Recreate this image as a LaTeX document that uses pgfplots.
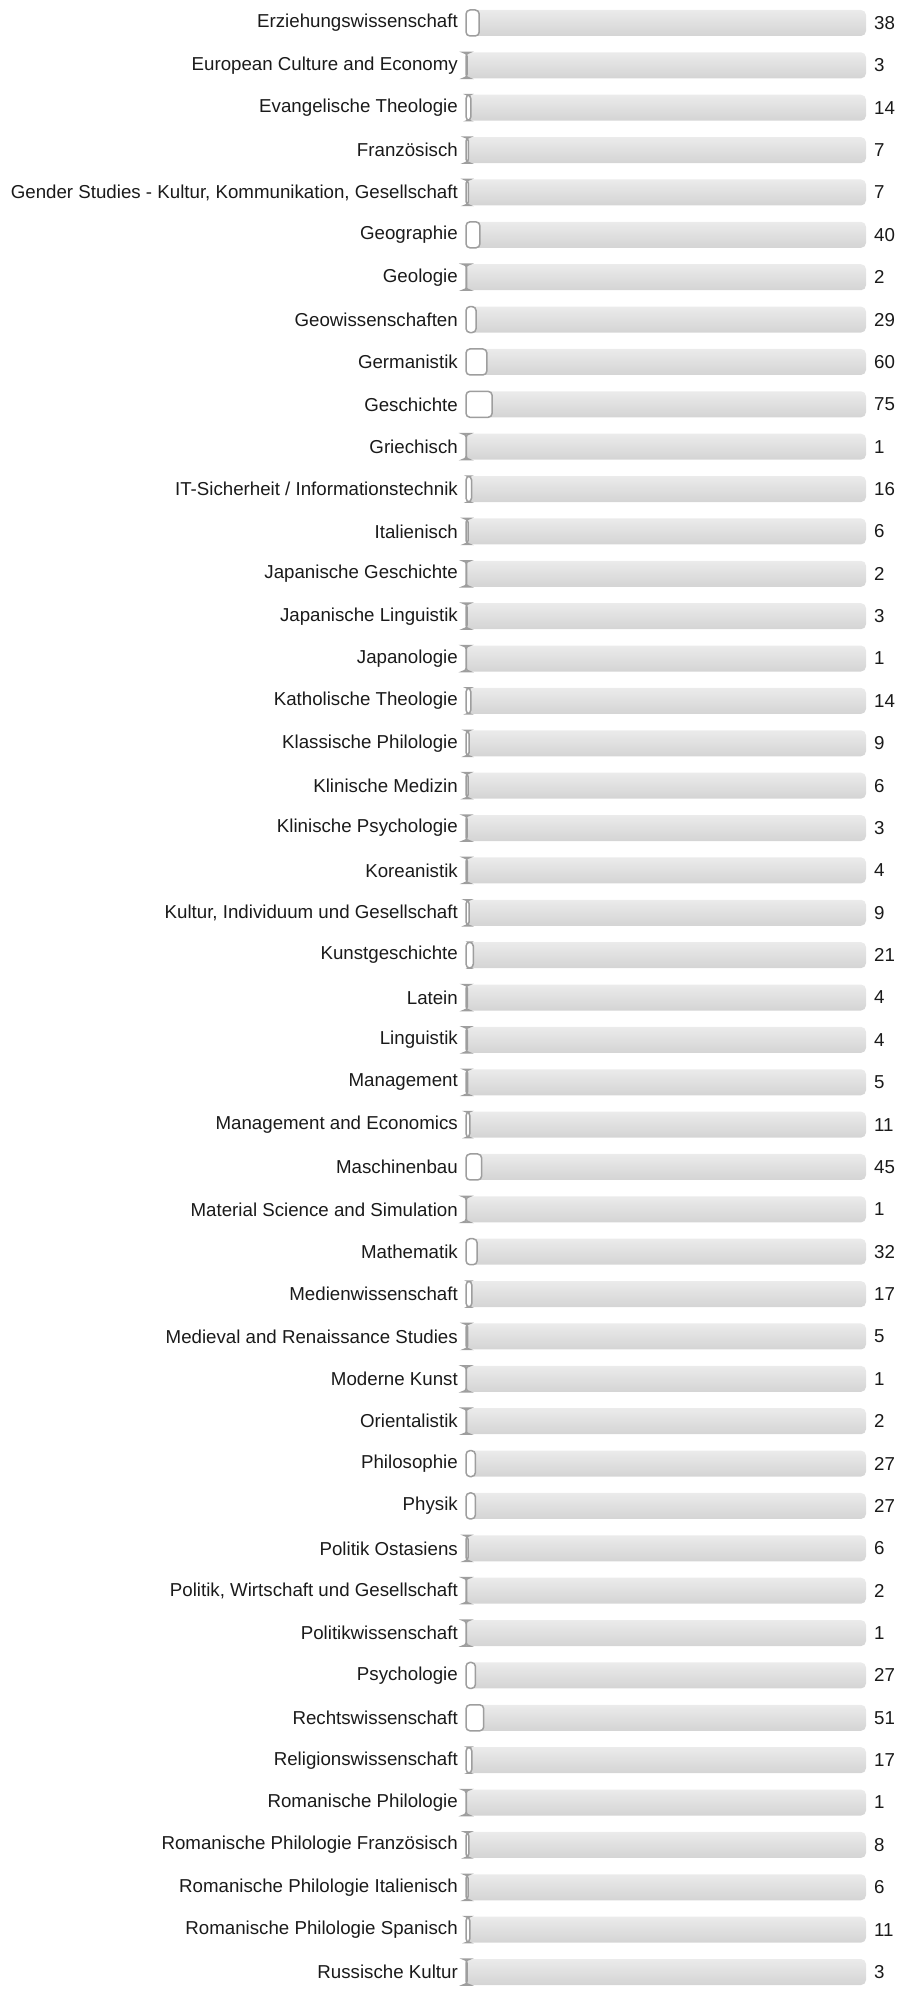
\documentclass[border=0pt]{standalone}
\usepackage{pgfplots}
\pgfplotsset{compat=1.18}
\usepackage{pgfplotstable}
\usepackage{fontspec}
\setmainfont{Liberation Sans}
\definecolor{trackTop}{HTML}{EBEBEB}
\definecolor{trackBot}{HTML}{D4D4D4}
\definecolor{barEdge}{HTML}{9E9E9E}
\definecolor{txt}{HTML}{1A1A1A}

\pgfplotstableread[col sep=semicolon]{
idx;label;val
0;Erziehungswissenschaft;38
1;European Culture and Economy;3
2;Evangelische Theologie;14
3;Französisch;7
4;Gender Studies - Kultur, Kommunikation, Gesellschaft;7
5;Geographie;40
6;Geologie;2
7;Geowissenschaften;29
8;Germanistik;60
9;Geschichte;75
10;Griechisch;1
11;IT-Sicherheit / Informationstechnik;16
12;Italienisch;6
13;Japanische Geschichte;2
14;Japanische Linguistik;3
15;Japanologie;1
16;Katholische Theologie;14
17;Klassische Philologie;9
18;Klinische Medizin;6
19;Klinische Psychologie;3
20;Koreanistik;4
21;Kultur, Individuum und Gesellschaft;9
22;Kunstgeschichte;21
23;Latein;4
24;Linguistik;4
25;Management;5
26;Management and Economics;11
27;Maschinenbau;45
28;Material Science and Simulation;1
29;Mathematik;32
30;Medienwissenschaft;17
31;Medieval and Renaissance Studies;5
32;Moderne Kunst;1
33;Orientalistik;2
34;Philosophie;27
35;Physik;27
36;Politik Ostasiens;6
37;Politik, Wirtschaft und Gesellschaft;2
38;Politikwissenschaft;1
39;Psychologie;27
40;Rechtswissenschaft;51
41;Religionswissenschaft;17
42;Romanische Philologie;1
43;Romanische Philologie Französisch;8
44;Romanische Philologie Italienisch;6
45;Romanische Philologie Spanisch;11
46;Russische Kultur;3
}\data

\begin{document}
\fontsize{18.7bp}{22bp}\selectfont
\begin{tikzpicture}
\begin{axis}[name=ax,
  scale only axis, width=400bp, height=1991.4bp,
  xmin=0, xmax=1150, ymin=-0.5, ymax=46.5, y dir=reverse,
  axis line style={draw=none}, major tick length=0pt,
  xtick=\empty, ytick={0,...,46},
  yticklabels from table={\data}{label},
  yticklabel style={anchor=east, inner sep=0pt, xshift=-8bp, text=txt,
    font=\fontsize{18.7bp}{22bp}\selectfont},
  clip=false]
\pgfplotsinvokeforeach{0,...,46}{
  \addplot[xbar, bar shift=0pt, bar width=26bp, draw=none,
    top color=trackTop, bottom color=trackBot, rounded corners=5bp]
    coordinates {(1150,#1)};
}
\addplot[xbar, bar shift=0pt, bar width=26bp, draw=barEdge, line width=1.5bp,
  fill=white, rounded corners=4bp]
  table[x=val, y=idx]{\data};
\addplot[draw=none, mark=none, point meta=explicit symbolic, nodes near coords,
  nodes near coords style={anchor=west, inner sep=0pt, xshift=8bp, text=txt,
    font=\fontsize{18.7bp}{22bp}\selectfont}]
  table[x expr=1150, y=idx, meta=val]{\data};
\end{axis}
\pgfresetboundingbox
\path ([shift={(-466bp,-1.8bp)}]ax.south west) rectangle ([shift={(30bp,1.8bp)}]ax.north east);
\end{tikzpicture}
\end{document}
